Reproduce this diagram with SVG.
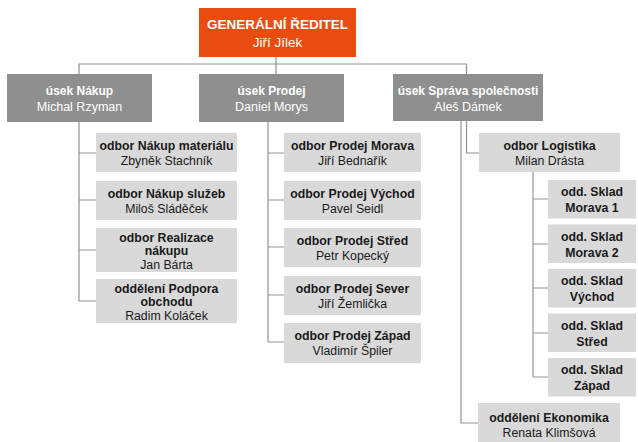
<svg xmlns="http://www.w3.org/2000/svg" width="638" height="442" viewBox="0 0 638 442">
<style>
text{font-family:"Liberation Sans",Arial,sans-serif;text-anchor:middle}
.top rect{fill:#E84D0F}
.l1 rect{fill:#8f8f8f}
.l2 rect{fill:#d9d9d9}
.top text,.l1 text{fill:#ffffff}
.l2 text{fill:#1a1a1a;font-size:12.3px}
.t{font-size:13.5px}
.l1 text{font-size:12.5px}
.l1 text.b{font-size:12px}
.b{font-weight:bold}
.conn path{fill:none;stroke:#939393;stroke-width:1.2}
</style>
<rect width="638" height="442" fill="#ffffff"/>
<g class="conn">
<path d="M276 57V74M79 74V64H466.5V74"/>
<path d="M79 122V301M79 153H96M79 200H96M79 250H96M79 301H96"/>
<path d="M268 122V342M268 153H284M268 200H284M268 247H284M268 295H284M268 342H284"/>
<path d="M466.5 121V153H479M461 121V423H478"/>
<path d="M533 172V377M533 199H548M533 244H548M533 288H548M533 333H548M533 377H548"/>
</g>
<g id="n0" class="top"><rect x="199" y="8" width="157" height="49"/><text class="t b" x="277.5" y="28.5">GENERÁLNÍ ŘEDITEL</text><text class="t" x="277.5" y="47">Jiří Jílek</text></g>
<g id="n1" class="l1"><rect x="7" y="74" width="145" height="48"/><text class="b" x="79.5" y="95">úsek Nákup</text><text x="79.5" y="111">Michal Rzyman</text></g>
<g id="n2" class="l1"><rect x="199" y="74" width="145" height="48"/><text class="b" x="271.5" y="95">úsek Prodej</text><text x="271.5" y="111">Daniel Morys</text></g>
<g id="n3" class="l1"><rect x="393" y="74" width="150" height="47"/><text class="b" x="468" y="94.5">úsek Správa společnosti</text><text x="468" y="110.5">Aleš Dámek</text></g>
<g id="n4" class="l2"><rect x="96" y="133" width="141" height="39"/><text class="b" x="166.5" y="150">odbor Nákup materiálu</text><text x="166.5" y="165">Zbyněk Stachník</text></g>
<g id="n5" class="l2"><rect x="96" y="181" width="141" height="39"/><text class="b" x="166.5" y="198">odbor Nákup služeb</text><text x="166.5" y="213">Miloš Sláděček</text></g>
<g id="n6" class="l2"><rect x="96" y="228" width="141" height="44"/><text class="b" x="166.5" y="241.5">odbor Realizace</text><text class="b" x="166.5" y="255">nákupu</text><text x="166.5" y="269">Jan Bárta</text></g>
<g id="n7" class="l2"><rect x="96" y="279" width="141" height="44"/><text class="b" x="166.5" y="292.5">oddělení Podpora</text><text class="b" x="166.5" y="306">obchodu</text><text x="166.5" y="320">Radim Koláček</text></g>
<g id="n8" class="l2"><rect x="284" y="133" width="137" height="39"/><text class="b" x="352.5" y="150">odbor Prodej Morava</text><text x="352.5" y="165">Jiří Bednařík</text></g>
<g id="n9" class="l2"><rect x="284" y="181" width="137" height="39"/><text class="b" x="352.5" y="198">odbor Prodej Východ</text><text x="352.5" y="213">Pavel Seidl</text></g>
<g id="n10" class="l2"><rect x="284" y="228" width="137" height="39"/><text class="b" x="352.5" y="245">odbor Prodej Střed</text><text x="352.5" y="260">Petr Kopecký</text></g>
<g id="n11" class="l2"><rect x="284" y="276" width="137" height="39"/><text class="b" x="352.5" y="293">odbor Prodej Sever</text><text x="352.5" y="308">Jiří Žemlička</text></g>
<g id="n12" class="l2"><rect x="284" y="323" width="137" height="40"/><text class="b" x="352.5" y="340">odbor Prodej Západ</text><text x="352.5" y="355">Vladimír Špiler</text></g>
<g id="n13" class="l2"><rect x="479" y="133" width="141" height="39"/><text class="b" x="549.5" y="150">odbor Logistika</text><text x="549.5" y="165">Milan Drásta</text></g>
<g id="n14" class="l2"><rect x="548" y="180" width="88" height="38.5"/><text class="b" x="592" y="196">odd. Sklad</text><text class="b" x="592" y="212">Morava 1</text></g>
<g id="n15" class="l2"><rect x="548" y="224.5" width="88" height="38.5"/><text class="b" x="592" y="240.5">odd. Sklad</text><text class="b" x="592" y="256.5">Morava 2</text></g>
<g id="n16" class="l2"><rect x="548" y="269" width="88" height="38.5"/><text class="b" x="592" y="285">odd. Sklad</text><text class="b" x="592" y="301">Východ</text></g>
<g id="n17" class="l2"><rect x="548" y="313.5" width="88" height="38.5"/><text class="b" x="592" y="329.5">odd. Sklad</text><text class="b" x="592" y="345.5">Střed</text></g>
<g id="n18" class="l2"><rect x="548" y="358" width="88" height="38.5"/><text class="b" x="592" y="374">odd. Sklad</text><text class="b" x="592" y="390">Západ</text></g>
<g id="n19" class="l2"><rect x="478" y="403" width="142" height="45"/><text class="b" x="549" y="421.5">oddělení Ekonomika</text><text x="549" y="437">Renata Klimšová</text></g>
</svg>
